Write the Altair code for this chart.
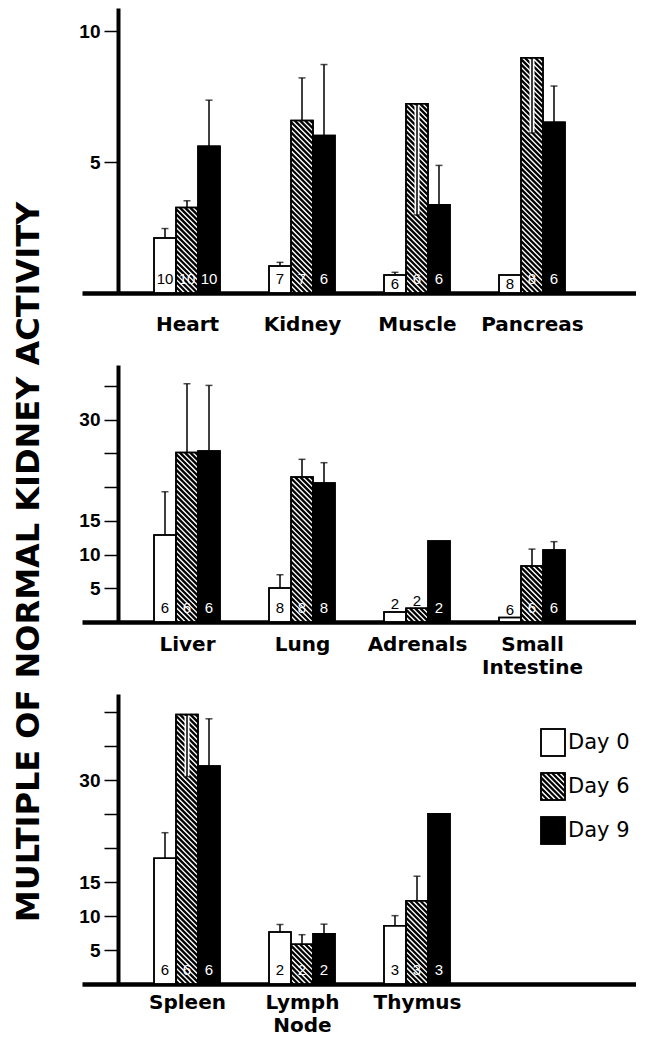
import json
import altair as alt
import pandas as pd

# ---------------- data ----------------
DAYS = ["Day 0", "Day 6", "Day 9"]
Y_TITLE = "MULTIPLE OF NORMAL KIDNEY ACTIVITY"

TOP_ORGANS = ["Heart", "Kidney", "Muscle", "Pancreas"]
TOP_DAY0 = [2.1, 1.03, 0.69, 0.69]
TOP_DAY0_SE = [2.46, 1.17, 0.79, None]
TOP_DAY0_N = [10, 7, 6, 8]
TOP_DAY6 = [3.26, 6.58, 7.22, 8.98]
TOP_DAY6_SE = [3.52, 8.21, 2.98, 6.11]
TOP_DAY6_N = [10, 7, 6, 8]
TOP_DAY9 = [5.6, 6.01, 3.37, 6.52]
TOP_DAY9_SE = [7.36, 8.72, 4.87, 7.9]
TOP_DAY9_N = [10, 6, 6, 6]

MID_ORGANS = ["Liver", "Lung", "Adrenals", "Small\nIntestine"]
MID_DAY0 = [12.9, 5.05, 1.5, 0.65]
MID_DAY0_SE = [19.3, 7.0, None, None]
MID_DAY0_N = [6, 8, 2, 6]
MID_DAY6 = [25.1, 21.5, 2.05, 8.3]
MID_DAY6_SE = [35.3, 24.1, None, 10.8]
MID_DAY6_N = [6, 8, 2, 6]
MID_DAY9 = [25.35, 20.6, 12.0, 10.65]
MID_DAY9_SE = [35.05, 23.6, None, 11.9]
MID_DAY9_N = [6, 8, 2, 6]

BOT_ORGANS = ["Spleen", "Lymph\nNode", "Thymus"]
BOT_DAY0 = [18.5, 7.65, 8.55]
BOT_DAY0_SE = [22.25, 8.75, 10.05]
BOT_DAY0_N = [6, 2, 3]
BOT_DAY6 = [39.65, 5.85, 12.25]
BOT_DAY6_SE = [30.5, 7.25, 15.85]
BOT_DAY6_N = [6, 2, 3]
BOT_DAY9 = [32.05, 7.4, 25.05]
BOT_DAY9_SE = [39.0, 8.8, None]
BOT_DAY9_N = [6, 2, 3]

# ---------------- layout constants (pixels) ----------------
S = 115.0        # px between category centres
X0 = 105.0       # px from plot left edge to first category centre
W = 554          # plot width
BW = 22.0        # bar width
AXIS_IN = 36     # y axis inset from plot left edge
P = 5.2          # hatch period
HATCH_W = 2.3


def make_df(organs, vals, ses, ns):
    rows = []
    for d in range(3):
        for i in range(len(organs)):
            rows.append({"i": i, "d": d, "day": DAYS[d], "value": vals[d][i],
                         "se": ses[d][i], "n": ns[d][i]})
    return pd.DataFrame(rows)


def hatch(chart, K, X, Y):
    return (chart
            .transform_calculate(cs=f"sequence(-datum.hw + {P / 2}, datum.hh, {P})")
            .transform_flatten(["cs"], as_=["c"])
            .transform_calculate(u0="max(0, -datum.c)")
            .transform_calculate(u1="min(datum.hw, datum.hh - datum.c)")
            .transform_filter("datum.u1 > datum.u0")
            .transform_calculate(xa=f"datum.hx + datum.u0 / {S}")
            .transform_calculate(xb=f"datum.hx + datum.u1 / {S}")
            .transform_calculate(ya=f"datum.htop - (datum.u0 + datum.c) / {K}")
            .transform_calculate(yb=f"datum.htop - (datum.u1 + datum.c) / {K}")
            .mark_rule(color="black", strokeWidth=HATCH_W, strokeCap="butt")
            .encode(x=X("xa"), x2="xb:Q", y=Y("ya"), y2="yb:Q"))


def panel(organs, df, H, K, yvals, ylabs, lpad, legend=False):
    ymax = H / K
    xs = alt.Scale(domain=[-X0 / S, (W - X0) / S], nice=False, zero=False)
    ys = alt.Scale(domain=[0, ymax], nice=False, zero=False)
    lab_arr = json.dumps([o.split("\n") for o in organs])
    xaxis = alt.Axis(values=list(range(len(organs))), labelExpr=f"{lab_arr}[datum.value]",
                     title=None, ticks=False, tickSize=0, grid=False,
                     domainWidth=4.5, domainColor="black",
                     labelFont="DejaVu Sans", labelFontWeight="bold", labelFontSize=20,
                     labelColor="black", labelPadding=lpad, labelLineHeight=23,
                     labelOverlap=False, labelFlush=False, labelBound=False)
    yaxis = alt.Axis(values=yvals,
                     labelExpr=f"indexof({json.dumps(ylabs)}, datum.value) >= 0 ? datum.label : ''",
                     title=None, offset=-AXIS_IN, grid=False,
                     domainWidth=4, domainColor="black",
                     tickSize=14, tickWidth=1.5, tickColor="black",
                     labelFont="Liberation Sans", labelFontWeight="bold", labelFontSize=19,
                     labelColor="black", labelPadding=4, labelOverlap=False)

    def X(f):
        return alt.X(f"{f}:Q", scale=xs, axis=xaxis)

    def Y(f):
        return alt.Y(f"{f}:Q", scale=ys, axis=yaxis)

    fill = alt.Fill("day:N", scale=alt.Scale(domain=DAYS, range=["white", "white", "black"]),
                    legend=None)
    half = BW / (2 * S)
    step = BW / S
    base = (alt.Chart(df)
            .transform_calculate(xc=f"datum.i + (datum.d - 1) * {step}")
            .transform_calculate(xl=f"datum.xc - {half}")
            .transform_calculate(xr=f"datum.xc + {half}")
            .transform_calculate(z="0"))

    bars = base.mark_rect(stroke="black", strokeWidth=1.5).encode(
        x=X("xl"), x2="xr:Q", y=Y("z"), y2="value:Q", fill=fill)

    bar_hatch = hatch(base.transform_filter("datum.d == 1")
                      .transform_calculate(hx="datum.xl")
                      .transform_calculate(hw=str(BW))
                      .transform_calculate(htop="datum.value")
                      .transform_calculate(hh=f"datum.value * {K}"), K, X, Y)

    err = base.transform_filter("isValid(datum.se)")
    err_white = (err.transform_filter("datum.se < datum.value")
                 .transform_calculate(etop=f"datum.value - 1.5 / {K}")
                 .mark_rule(color="white", strokeWidth=5)
                 .encode(x=X("xc"), y=Y("etop"), y2="se:Q"))

    outline = base.mark_rect(stroke="black", strokeWidth=1.5, fillOpacity=0).encode(
        x=X("xl"), x2="xr:Q", y=Y("z"), y2="value:Q")

    err_line = err.mark_rule(color="black", strokeWidth=1.5).encode(
        x=X("xc"), y=Y("value"), y2="se:Q")
    err_cap = err.mark_tick(color="black", orient="horizontal", size=7, thickness=1.5).encode(
        x=X("xc"), y=Y("se"))

    labels = (base
              .transform_calculate(bpx=f"datum.value * {K}")
              .transform_calculate(lpx="datum.bpx >= 22 ? 9 : (datum.bpx >= 15 ? 4.5 : datum.bpx + 2.5)")
              .transform_calculate(ly=f"datum.lpx / {K}")
              .transform_calculate(lc="(datum.bpx < 15 || datum.d == 0) ? 'black' : 'white'")
              .mark_text(baseline="alphabetic", align="center", font="Liberation Sans", fontSize=15)
              .encode(x=X("xc"), y=Y("ly"), text="n:Q", color=alt.Color("lc:N", scale=None)))

    layers = [bars, bar_hatch, err_white, outline, err_line, err_cap, labels]

    if legend:
        leg_df = pd.DataFrame({"day": DAYS, "k": [0, 1, 2]})
        lb = (alt.Chart(leg_df)
              .transform_calculate(lx0=f"({459} - {X0}) / {S}")
              .transform_calculate(lx1=f"({483} - {X0}) / {S}")
              .transform_calculate(ltx=f"({486} - {X0}) / {S}")
              .transform_calculate(ytop=f"{ymax} - (35 + datum.k * 44) / {K}")
              .transform_calculate(ybot=f"datum.ytop - 27 / {K}")
              .transform_calculate(ymid=f"datum.ytop - 13.5 / {K}"))
        leg_rect = lb.mark_rect(stroke="black", strokeWidth=1.5).encode(
            x=X("lx0"), x2="lx1:Q", y=Y("ybot"), y2="ytop:Q", fill=fill)
        leg_hatch = hatch(lb.transform_filter("datum.k == 1")
                          .transform_calculate(hx="datum.lx0")
                          .transform_calculate(hw="24")
                          .transform_calculate(htop="datum.ytop")
                          .transform_calculate(hh="27"), K, X, Y)
        leg_out = lb.mark_rect(stroke="black", strokeWidth=1.5, fillOpacity=0).encode(
            x=X("lx0"), x2="lx1:Q", y=Y("ybot"), y2="ytop:Q")
        leg_text = lb.mark_text(align="left", baseline="middle", font="DejaVu Sans",
                                fontSize=21, color="black").encode(
            x=X("ltx"), y=Y("ymid"), text="day:N")
        layers += [leg_rect, leg_hatch, leg_out, leg_text]

    return alt.layer(*layers).properties(width=W, height=H)


top_df = make_df(TOP_ORGANS, [TOP_DAY0, TOP_DAY6, TOP_DAY9],
                 [TOP_DAY0_SE, TOP_DAY6_SE, TOP_DAY9_SE], [TOP_DAY0_N, TOP_DAY6_N, TOP_DAY9_N])
mid_df = make_df(MID_ORGANS, [MID_DAY0, MID_DAY6, MID_DAY9],
                 [MID_DAY0_SE, MID_DAY6_SE, MID_DAY9_SE], [MID_DAY0_N, MID_DAY6_N, MID_DAY9_N])
bot_df = make_df(BOT_ORGANS, [BOT_DAY0, BOT_DAY6, BOT_DAY9],
                 [BOT_DAY0_SE, BOT_DAY6_SE, BOT_DAY9_SE], [BOT_DAY0_N, BOT_DAY6_N, BOT_DAY9_N])

top = panel(TOP_ORGANS, top_df, 285, 26.2, [5, 10], [5, 10], 21)
mid = panel(MID_ORGANS, mid_df, 257, 6.75, [5, 10, 15, 20, 25, 30, 35], [5, 10, 15, 30], 12)
bot = panel(BOT_ORGANS, bot_df, 290, 6.8, [5, 10, 15, 20, 25, 30, 35, 40], [5, 10, 15, 30], 8,
            legend=True)

title_chart = alt.Chart(pd.DataFrame({"t": [Y_TITLE]})).mark_text(
    angle=270, align="center", baseline="middle", font="DejaVu Sans", fontWeight="bold",
    fontSize=32, color="black").encode(
    text="t:N", x=alt.value(21), y=alt.value(554)).properties(width=70, height=1018)

chart = alt.hconcat(
    title_chart,
    alt.vconcat(top, mid, bot, spacing=72, bounds="flush"),
    spacing=0,
).properties(padding=0, background="white").configure_view(stroke="transparent", strokeWidth=0)

chart.save("out.html", embed_options={"renderer": "svg", "actions": False})
